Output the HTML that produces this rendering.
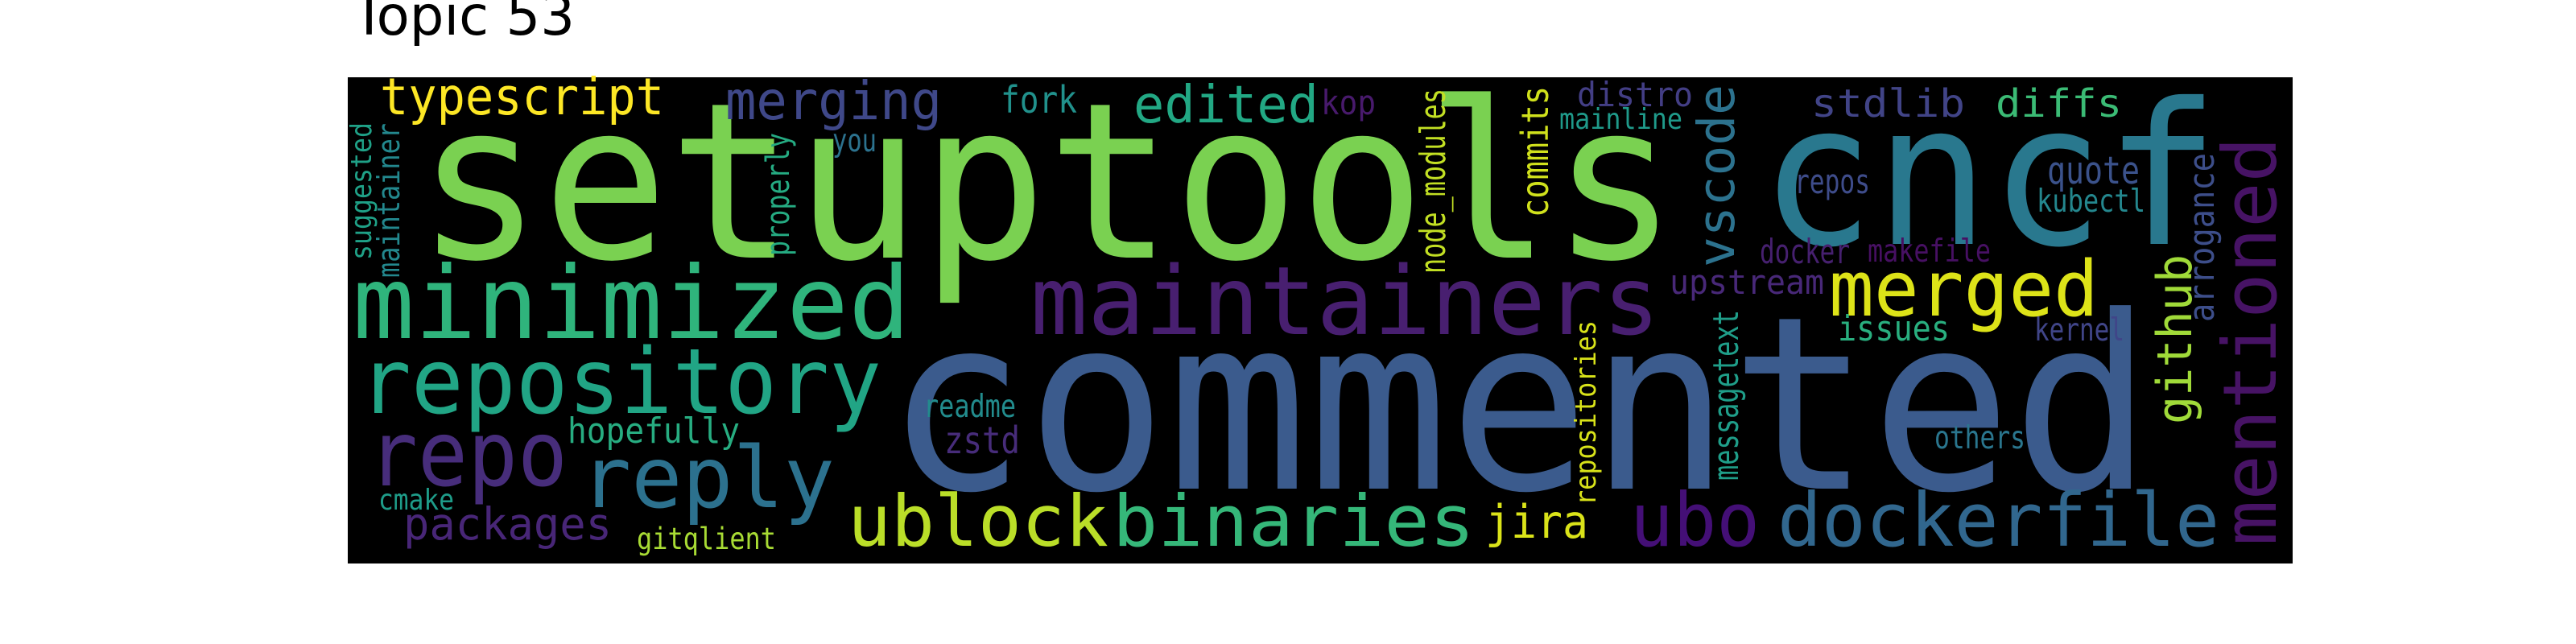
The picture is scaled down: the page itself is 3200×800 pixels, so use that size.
<!DOCTYPE html>
<html><head><meta charset="utf-8"><style>
html,body{margin:0;padding:0;background:#fff;}
svg{display:block;}
text{font-family:"DejaVu Sans Mono","Liberation Mono",monospace;}
</style></head><body>
<svg width="3200" height="800" viewBox="0 0 3200 800">
<text x="438" y="43" font-size="68" textLength="276" lengthAdjust="spacingAndGlyphs" style="font-family:'DejaVu Sans','Liberation Sans',sans-serif" fill="#000">Topic 53</text>
<rect x="432" y="96" width="2416" height="604" fill="#000"/>
<g id="words"></g>
</svg>
<script>
const words = ["setuptools","commented","cncf","minimized","maintainers","repository","repo","reply","ublock","binaries","ubo","dockerfile","mentioned","merged","typescript","merging","fork","edited","kop","distro","mainline","stdlib","diffs","vscode","commits","node_modules","github","arrogance","upstream","docker","makefile","repos","quote","kubectl","issues","kernel","others","messagetext","repositories","jira","readme","zstd","hopefully","packages","cmake","gitqlient","you","properly","suggested","maintainer"];
const sizes = [270,300,245,125,118,112,112,105,88,88,92,92,92,95,63,66,46,64,42,42,36,48,48,63,46,44,60,44,42,42,39,42,47,39,44,39,39,44,36,57,39,46,44,55,36,37,39,40,36,38];
const colors = ["#7ad151","#3b5b8d","#29788e","#2fb47c","#481f70","#21a585","#472d7b","#2c718e","#bade28","#35b779","#440f76","#31678e","#471365","#dde318","#fde725","#3f4889","#21918c","#22a884","#481a6c","#433e85","#1f9a8a","#414487","#3bbb75","#2c728e","#d0e11c","#c2df23","#a0da39","#3d4e8a","#482878","#46206f","#471063","#3e4c8a","#3b528b","#24878e","#29af7f","#404588","#2a768e","#1f9e89","#d8e219","#dae319","#228c8d","#472c7a","#27ad81","#482677","#1e9c89","#a8db34","#2c728e","#25ab82","#1fa187","#23888e"];
// layout: [x, y, length, vertical]
const layout = [[517,320,1567,0],[1100,607,1574,0],[2186,303,571,0],[438,420,693,0],[1280,415,782,0],[446,513,649,0],[457,603,248,0],[721,630,316,0],[1053,678,324,0],[1382,678,450,0],[2025,678,161,0],[2208,678,549,0],[2827,678,508,1],[2272,392,335,0],[472,142,353,0],[901,148,269,0],[1243,140,95,0],[1408,152,230,0],[1641,142,68,0],[1959,132,144,0],[1937,160,153,0],[2250,145,191,0],[2479,145,157,0],[2154,332,227,1],[1923,270,163,1],[1795,340,230,1],[2722,527,211,1],[2750,400,210,1],[2074,365,192,0],[2186,327,112,0],[2320,325,153,0],[2229,240,94,0],[2543,228,115,0],[2530,263,135,0],[2283,423,139,0],[2527,423,112,0],[2403,557,113,0],[2159,597,212,1],[1982,628,230,1],[1845,668,128,0],[1147,518,115,0],[1173,563,94,0],[705,550,214,0],[501,670,259,0],[470,633,94,0],[791,682,173,0],[1034,188,55,0],[980,318,153,1],[461,323,171,1],[496,345,192,1]];
const g = document.getElementById('words');
const NS = 'http://www.w3.org/2000/svg';
words.forEach((w, i) => {
  const [x, y, len, vert] = layout[i];
  const t = document.createElementNS(NS, 'text');
  t.textContent = w;
  t.setAttribute('font-size', sizes[i]);
  t.setAttribute('fill', colors[i]);
  t.setAttribute('textLength', len);
  t.setAttribute('lengthAdjust', 'spacingAndGlyphs');
  if (vert) {
    t.setAttribute('x', 0); t.setAttribute('y', 0);
    t.setAttribute('transform', 'translate(' + x + ',' + y + ') rotate(-90)');
  } else {
    t.setAttribute('x', x); t.setAttribute('y', y);
  }
  
  
  g.appendChild(t);
});
</script>
</body></html>
